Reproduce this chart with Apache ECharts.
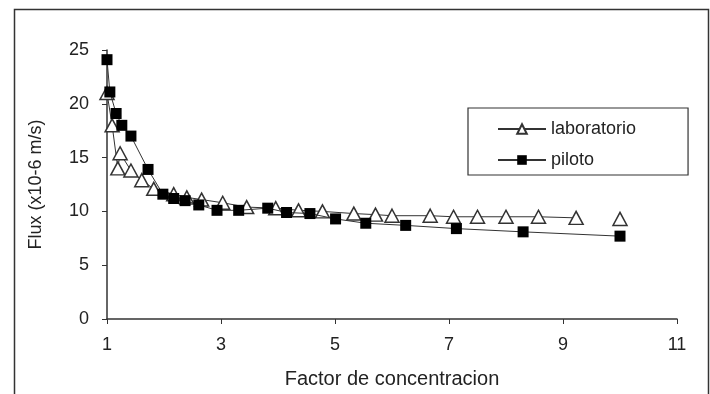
<!DOCTYPE html>
<html>
<head>
<meta charset="utf-8">
<script src="https://cdn.jsdelivr.net/npm/echarts@6/dist/echarts.min.js"></script>
<style>html,body{margin:0;padding:0;background:#fff}#c{width:710px;height:394px}</style>
</head>
<body>
<div id="c"></div>
<script>
const xTicks = [1, 3, 5, 7, 9, 11];
const yTicks = [0, 5, 10, 15, 20, 25];
const labX = [1.0, 1.09, 1.19, 1.23, 1.42, 1.61, 1.82, 2.17, 2.40, 2.66, 3.03, 3.45, 3.96, 4.36, 4.78, 5.33, 5.71, 6.0, 6.67, 7.08, 7.50, 8.0, 8.57, 9.23, 10.0];
const labY = [21.0, 18.0, 14.0, 15.4, 13.8, 12.9, 12.1, 11.6, 11.3, 11.1, 10.8, 10.4, 10.3, 10.1, 10.0, 9.8, 9.7, 9.6, 9.6, 9.5, 9.5, 9.5, 9.5, 9.4, 9.3];
const pilX = [1.0, 1.05, 1.16, 1.26, 1.42, 1.72, 1.98, 2.17, 2.37, 2.61, 2.93, 3.31, 3.82, 4.15, 4.56, 5.01, 5.54, 6.24, 7.13, 8.30, 10.0];
const pilY = [24.1, 21.1, 19.1, 18.0, 17.0, 13.9, 11.6, 11.2, 11.0, 10.6, 10.1, 10.1, 10.3, 9.9, 9.8, 9.3, 8.9, 8.7, 8.4, 8.1, 7.7];
const seriesNames = ['laboratorio', 'piloto'];

// laboratorio line stops at the 9.23 point; last point stands alone
const labData = labX.map((x, i) => [x, labY[i]]);
labData.splice(labData.length - 1, 0, [9.6, '-']);
const pilData = pilX.map((x, i) => [x, pilY[i]]);

const font = 'Liberation Sans, Arial, sans-serif';
const chart = echarts.init(document.getElementById('c'), null, {renderer: 'canvas'});
chart.setOption({
  animation: false,
  backgroundColor: '#fff',
  graphic: [{
    type: 'rect', left: 12, top: 7, silent: true,
    shape: {x: 0, y: 0, width: 694, height: 420},
    style: {fill: 'none', stroke: '#333', lineWidth: 1.5}
  }],
  grid: {left: 107, right: 33, top: 50, bottom: 72, containLabel: false},
  xAxis: {
    type: 'value', min: xTicks[0], max: xTicks[xTicks.length - 1], interval: 2,
    name: 'Factor de concentracion', nameLocation: 'middle', nameGap: 50,
    nameTextStyle: {fontFamily: font, fontSize: 20, color: '#222'},
    axisLine: {show: true, onZero: false, lineStyle: {color: '#333', width: 1.5}},
    axisTick: {show: true, inside: false, length: 5, lineStyle: {color: '#333'}},
    axisLabel: {fontFamily: font, fontSize: 18, color: '#222', margin: 17},
    splitLine: {show: false}
  },
  yAxis: {
    type: 'value', min: yTicks[0], max: yTicks[yTicks.length - 1], interval: 5,
    name: 'Flux (x10-6 m/s)', nameLocation: 'middle', nameGap: 62, nameRotate: 90,
    nameTextStyle: {fontFamily: font, fontSize: 18, color: '#222'},
    axisLine: {show: true, lineStyle: {color: '#333', width: 1.5}},
    axisTick: {show: true, inside: false, length: 5, lineStyle: {color: '#333'}},
    axisLabel: {fontFamily: font, fontSize: 18, color: '#222', margin: 18},
    splitLine: {show: false}
  },
  legend: {
    orient: 'vertical', left: 468, top: 108,
    data: seriesNames,
    borderColor: '#333', borderWidth: 1.2,
    padding: [12, 52, 6, 29],
    itemWidth: 48, itemHeight: 12, itemGap: 13,
    textStyle: {fontFamily: font, fontSize: 18, color: '#222'}
  },
  series: [{
    name: seriesNames[0], type: 'line', data: labData, connectNulls: false,
    symbol: 'triangle', symbolSize: [14, 13], showAllSymbol: true,
    lineStyle: {color: '#333', width: 1},
    itemStyle: {color: '#fff', borderColor: '#333', borderWidth: 1.5},
    z: 2
  }, {
    name: seriesNames[1], type: 'line', data: pilData,
    symbol: 'rect', symbolSize: 11, showAllSymbol: true,
    lineStyle: {color: '#333', width: 1},
    itemStyle: {color: '#000', borderColor: '#000', borderWidth: 0},
    z: 3
  }]
});
</script>
</body>
</html>
